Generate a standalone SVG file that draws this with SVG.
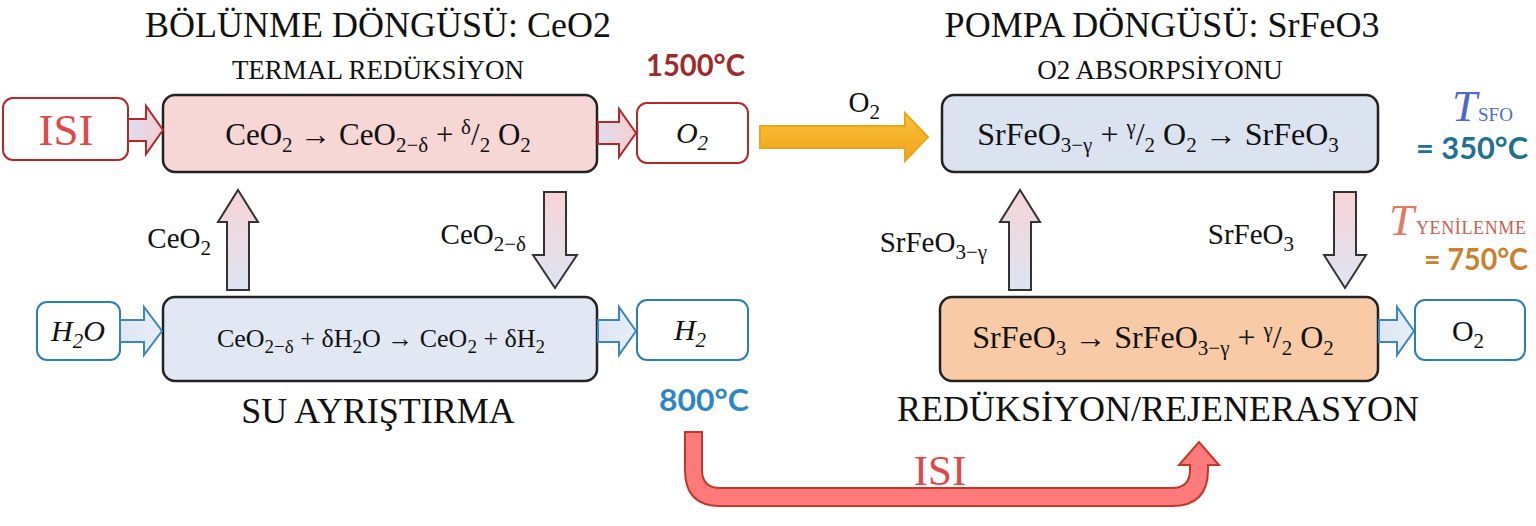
<svg xmlns="http://www.w3.org/2000/svg" width="1536" height="526" viewBox="0 0 1536 526">
<defs>
<linearGradient id="gRed" x1="0" y1="0" x2="1" y2="0"><stop offset="0" stop-color="#dcdcf0"/><stop offset="1" stop-color="#f6d0d0"/></linearGradient>
<linearGradient id="gBlue" x1="0" y1="0" x2="1" y2="0"><stop offset="0" stop-color="#dde6f3"/><stop offset="1" stop-color="#e6eef8"/></linearGradient>
<linearGradient id="gVert" x1="0" y1="0" x2="0" y2="1"><stop offset="0" stop-color="#f7d3d6"/><stop offset="1" stop-color="#dde5f2"/></linearGradient>
<linearGradient id="gOrange" x1="0" y1="0" x2="0" y2="1"><stop offset="0" stop-color="#f8c23a"/><stop offset="1" stop-color="#f2a31a"/></linearGradient>
<style>
.title{font-family:"Liberation Serif",serif;font-size:36px;fill:#111;text-anchor:middle}
.sub1{font-family:"Liberation Serif",serif;font-size:27px;fill:#111;text-anchor:middle}
.eq{font-family:"Liberation Serif",serif;font-size:30px;fill:#111;text-anchor:middle}
.lbl{font-family:"Liberation Serif",serif;font-size:29px;fill:#111;text-anchor:end}
.s{font-size:21px}
.it{font-style:italic}
.temp{font-family:Lato,"Liberation Sans",sans-serif;font-size:31px;font-weight:bold}
.node{stroke:#222;stroke-width:2.5}
.rbox{fill:#fff;stroke:#b02a2a;stroke-width:2}
.bbox{fill:#fff;stroke:#2c7fb3;stroke-width:2}
.ra{fill:url(#gRed);stroke:#b02a2a;stroke-width:2}
.ba{fill:url(#gBlue);stroke:#3b86bc;stroke-width:2}
.va{fill:url(#gVert);stroke:#333;stroke-width:2}
</style>
</defs>

<text class="title" x="378" y="37">BÖLÜNME DÖNGÜSÜ: CeO2</text>
<text class="sub1" x="378" y="79">TERMAL REDÜKSİYON</text>
<text class="temp" x="646" y="76" fill="#9e2b2b" textLength="99" lengthAdjust="spacingAndGlyphs">1500°C</text>
<text class="title" x="1162" y="37">POMPA DÖNGÜSÜ: SrFeO3</text>
<text class="sub1" x="1160" y="79">O2 ABSORPSİYONU</text>

<g id="isi-in">
<rect class="rbox" x="3" y="98" width="125" height="62" rx="10"/>
<text x="66" y="145" font-family="Liberation Serif,serif" font-size="45" fill="#e04848" text-anchor="middle">ISI</text>
</g>

<g id="thermal-reduction">
<rect class="node" x="163" y="95" width="434" height="77" rx="12" fill="#f7d6d6"/>
<text class="eq" x="378" y="145" style="font-size:31px">CeO<tspan class="s" dy="7">2</tspan><tspan dy="-7"> → CeO</tspan><tspan class="s" dy="7">2−δ</tspan><tspan dy="-7"> + </tspan><tspan class="s" dy="-11">δ</tspan><tspan dy="11">/</tspan><tspan class="s" dy="7">2</tspan><tspan dy="-7"> O</tspan><tspan class="s" dy="7">2</tspan></text>
</g>

<g id="o2-top">
<rect class="rbox" x="637" y="103" width="111" height="60" rx="10"/>
<text class="eq it" x="692" y="143">O<tspan class="s" dy="7">2</tspan></text>
</g>

<g id="sfo-absorption">
<rect class="node" x="942" y="95" width="436" height="77" rx="12" fill="#dbe3f0"/>
<text class="eq" x="1158" y="145" style="font-size:32px">SrFeO<tspan class="s" dy="7">3−γ</tspan><tspan dy="-7"> + </tspan><tspan class="s" dy="-11">γ</tspan><tspan dy="11">/</tspan><tspan class="s" dy="7">2</tspan><tspan dy="-7"> O</tspan><tspan class="s" dy="7">2</tspan><tspan dy="-7"> → SrFeO</tspan><tspan class="s" dy="7">3</tspan></text>
</g>

<g id="tsfo">
<text x="1452" y="121" font-family="Liberation Serif,serif" font-style="italic" font-size="45" fill="#5068cc">T</text>
<text x="1478" y="121" font-family="Liberation Serif,serif" font-size="19" fill="#4a6fd0">SFO</text>
<text class="temp" x="1416" y="159" fill="#22708f" textLength="112" lengthAdjust="spacingAndGlyphs">= 350°C</text>
</g>

<g id="h2o-in">
<rect class="bbox" x="37" y="302" width="83" height="58" rx="10"/>
<text class="eq it" x="78" y="341">H<tspan class="s" dy="7">2</tspan><tspan dy="-7">O</tspan></text>
</g>

<g id="water-splitting">
<rect class="node" x="163" y="297" width="434" height="84" rx="12" fill="#e1e8f3"/>
<text class="eq" x="381" y="347" style="font-size:26px">CeO<tspan style="font-size:19px" dy="6">2−δ</tspan><tspan dy="-6"> + δH</tspan><tspan style="font-size:19px" dy="6">2</tspan><tspan dy="-6">O → CeO</tspan><tspan style="font-size:19px" dy="6">2</tspan><tspan dy="-6"> + δH</tspan><tspan style="font-size:19px" dy="6">2</tspan></text>
</g>

<g id="h2-out">
<rect class="bbox" x="637" y="300" width="111" height="60" rx="10"/>
<text class="eq it" x="690" y="340">H<tspan class="s" dy="7">2</tspan></text>
</g>

<text class="temp" x="659" y="411" fill="#2e86c1" textLength="90" lengthAdjust="spacingAndGlyphs">800°C</text>
<text class="title" x="378" y="423">SU AYRIŞTIRMA</text>

<g id="sfo-reduction">
<rect class="node" x="940" y="297" width="438" height="84" rx="12" fill="#f9caa6"/>
<text class="eq" x="1153" y="348" style="font-size:32px">SrFeO<tspan class="s" dy="7">3</tspan><tspan dy="-7"> → SrFeO</tspan><tspan class="s" dy="7">3−γ</tspan><tspan dy="-7"> + </tspan><tspan class="s" dy="-11">γ</tspan><tspan dy="11">/</tspan><tspan class="s" dy="7">2</tspan><tspan dy="-7"> O</tspan><tspan class="s" dy="7">2</tspan></text>
</g>

<g id="o2-out">
<rect class="bbox" x="1415" y="300" width="110" height="60" rx="10"/>
<text class="eq" x="1468" y="341">O<tspan class="s" dy="7">2</tspan></text>
</g>

<text class="title" x="1158" y="421">REDÜKSİYON/REJENERASYON</text>

<g id="tyen">
<text x="1389" y="235" font-family="Liberation Serif,serif" font-style="italic" font-size="45" fill="#e07a60">T</text>
<text x="1416" y="234" font-family="Liberation Serif,serif" font-size="18" fill="#c8604f" textLength="110">YENİLENME</text>
<text class="temp" x="1424" y="270" fill="#c9812f" textLength="104" lengthAdjust="spacingAndGlyphs">= 750°C</text>
</g>

<g id="connectors">
<path class="ra" d="M128,119 H146 V106 L163,130 L146,154 V141 H128 Z"/>
<path class="ra" d="M598,122 H619 V109 L636,133 L619,157 V144 H598 Z"/>
<path d="M760,126 H905 V113 L928,137 L905,161 V148 H760 Z" fill="url(#gOrange)" stroke="#e9a51c" stroke-width="2"/>
<text class="lbl" x="880" y="112">O<tspan class="s" dy="7">2</tspan></text>

<path class="va" d="M238,190 L258,222 H249 V290 H227 V222 H218 Z"/>
<text class="lbl" x="211" y="248">CeO<tspan class="s" dy="7">2</tspan></text>
<path class="va" d="M544,192 H566 V255 H577 L555,288 L533,255 H544 Z"/>
<text class="lbl" x="526" y="244">CeO<tspan class="s" dy="7">2−δ</tspan></text>

<path class="va" d="M1020,190 L1040,222 H1031 V290 H1009 V222 H1000 Z"/>
<text class="lbl" x="987" y="252">SrFeO<tspan class="s" dy="7">3−γ</tspan></text>
<path class="va" d="M1334,192 H1356 V255 H1366 L1345,288 L1324,255 H1334 Z"/>
<text class="lbl" x="1294" y="244">SrFeO<tspan class="s" dy="7">3</tspan></text>

<path class="ba" d="M120,320 H144 V307 L162,331 L144,355 V342 H120 Z"/>
<path class="ba" d="M598,320 H619 V307 L636,331 L619,355 V342 H598 Z"/>
<path class="ba" d="M1379,320 H1397 V307 L1414,331 L1397,355 V342 H1379 Z"/>

<path d="M685,432 H702 V470 Q702,488 720,488 H1172 Q1190,488 1190,470 V465 H1179 L1199,442 L1219,465 H1208 V470 Q1208,506 1172,506 H720 Q685,506 685,470 Z" fill="#ff7b7b" stroke="#c0392b" stroke-width="2"/>
<text x="940" y="485" font-family="Liberation Serif,serif" font-size="43" fill="#e04848" text-anchor="middle">ISI</text>
</g>
</svg>
